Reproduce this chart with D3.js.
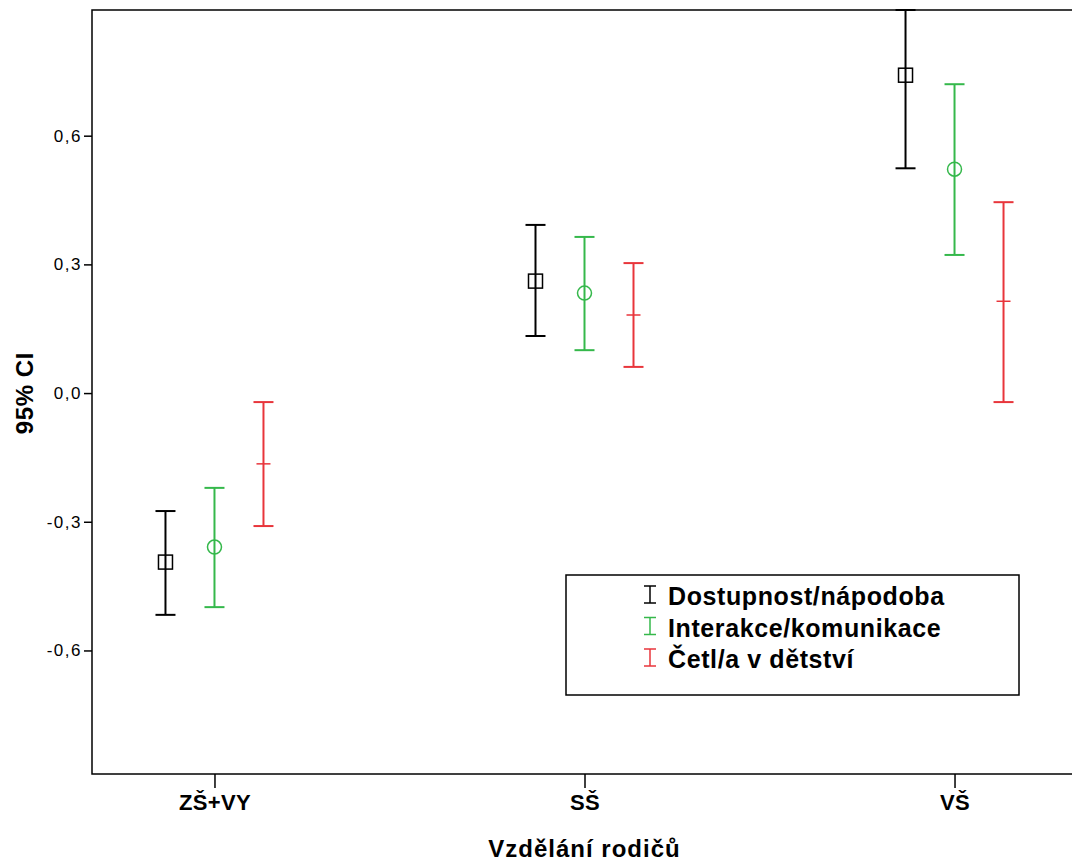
<!DOCTYPE html>
<html>
<head>
<meta charset="utf-8">
<script src="https://cdn.jsdelivr.net/npm/d3@7"></script>
<style>
  body { margin: 0; background: #fff; }
  svg { display: block; }
</style>
</head>
<body>
<svg id="chart" width="1072" height="867"></svg>
<script>
// categories and series
var categories = ["ZŠ+VY", "SŠ", "VŠ"];
var seriesNames = ["Dostupnost/nápodoba", "Interakce/komunikace", "Četl/a v dětství"];
var seriesColors = ["#000000", "#35b84b", "#e8353b"];
var seriesMarkers = ["square", "circle", "dash"];

// values (per category, in series order)
var dostupnostMean = [-0.394, 0.261, 0.741];
var dostupnostLow = [-0.517, 0.133, 0.524];
var dostupnostHigh = [-0.275, 0.392, 0.893];

var interakceMean = [-0.359, 0.233, 0.522];
var interakceLow = [-0.499, 0.100, 0.322];
var interakceHigh = [-0.221, 0.364, 0.720];

var cetlMean = [-0.165, 0.182, 0.214];
var cetlLow = [-0.310, 0.061, -0.021];
var cetlHigh = [-0.021, 0.303, 0.445];

var yTicks = [-0.6, -0.3, 0.0, 0.3, 0.6];

var means = [dostupnostMean, interakceMean, cetlMean];
var lows = [dostupnostLow, interakceLow, cetlLow];
var highs = [dostupnostHigh, interakceHigh, cetlHigh];

// plot area
var plotLeft = 92, plotTop = 10, plotRight = 1077, plotBottom = 774;
var fontFamily = "Liberation Sans, Arial, sans-serif";
var svg = d3.select("#chart");

var x = d3.scalePoint()
  .domain(categories)
  .range([plotLeft, plotRight])
  .padding(0.331);

var seriesOffset = d3.scalePoint()
  .domain(seriesNames)
  .range([-49, 49]);

var y = d3.scaleLinear()
  .domain([-0.888, 0.893])
  .range([plotBottom, plotTop]);

// frame
svg.append("rect")
  .attr("x", plotLeft)
  .attr("y", plotTop)
  .attr("width", plotRight - plotLeft)
  .attr("height", plotBottom - plotTop)
  .attr("fill", "none")
  .attr("stroke", "#000")
  .attr("stroke-width", 1.5);

// y axis
var fmt = function (d) { return d3.format(".1f")(d).replace(".", ",").replace("−", "-"); };
var yAxis = d3.axisLeft(y)
  .tickValues(yTicks)
  .tickSize(8)
  .tickPadding(2)
  .tickFormat(fmt);

var gy = svg.append("g")
  .attr("transform", "translate(" + plotLeft + ",0)")
  .call(yAxis);
gy.select(".domain").remove();
gy.selectAll("line").attr("stroke", "#000").attr("stroke-width", 1.5);
gy.selectAll("text")
  .attr("font-family", fontFamily)
  .attr("font-size", 17)
  .attr("letter-spacing", 1.5)
  .attr("fill", "#000");

// x axis
var xAxis = d3.axisBottom(x)
  .tickSize(14)
  .tickPadding(6);

var gx = svg.append("g")
  .attr("transform", "translate(0," + plotBottom + ")")
  .call(xAxis);
gx.select(".domain").remove();
gx.selectAll("line").attr("stroke", "#000").attr("stroke-width", 1.5);
gx.selectAll("text")
  .attr("font-family", fontFamily)
  .attr("font-weight", "bold")
  .attr("font-size", 22)
  .attr("letter-spacing", 0.3)
  .attr("fill", "#000");

// axis titles
svg.append("text")
  .attr("transform", "translate(33," + y(0) + ") rotate(-90)")
  .attr("text-anchor", "middle")
  .attr("font-family", fontFamily)
  .attr("font-weight", "bold")
  .attr("font-size", 24)
  .attr("letter-spacing", 0.6)
  .text("95% CI");

svg.append("text")
  .attr("x", x("SŠ"))
  .attr("y", 857)
  .attr("text-anchor", "middle")
  .attr("font-family", fontFamily)
  .attr("font-weight", "bold")
  .attr("font-size", 24)
  .attr("letter-spacing", 1)
  .text("Vzdělání rodičů");

// error bars
var capHalf = 10;
seriesNames.forEach(function (name, s) {
  var color = seriesColors[s];
  var rows = categories.map(function (c, i) {
    return { cat: c, mean: means[s][i], low: lows[s][i], high: highs[s][i] };
  });
  var g = svg.append("g").attr("class", "series");
  var cx = function (d) { return x(d.cat) + seriesOffset(name); };

  g.selectAll(".stem").data(rows).enter().append("line")
    .attr("x1", cx).attr("x2", cx)
    .attr("y1", function (d) { return y(d.high); })
    .attr("y2", function (d) { return y(d.low); })
    .attr("stroke", color).attr("stroke-width", 2);

  g.selectAll(".capTop").data(rows).enter().append("line")
    .attr("x1", function (d) { return cx(d) - capHalf; })
    .attr("x2", function (d) { return cx(d) + capHalf; })
    .attr("y1", function (d) { return y(d.high); })
    .attr("y2", function (d) { return y(d.high); })
    .attr("stroke", color).attr("stroke-width", 2);

  g.selectAll(".capBottom").data(rows).enter().append("line")
    .attr("x1", function (d) { return cx(d) - capHalf; })
    .attr("x2", function (d) { return cx(d) + capHalf; })
    .attr("y1", function (d) { return y(d.low); })
    .attr("y2", function (d) { return y(d.low); })
    .attr("stroke", color).attr("stroke-width", 2);

  // mean markers
  if (seriesMarkers[s] == "square") {
    g.selectAll(".mark").data(rows).enter().append("rect")
      .attr("x", function (d) { return cx(d) - 7; })
      .attr("y", function (d) { return y(d.mean) - 7; })
      .attr("width", 14).attr("height", 14)
      .attr("fill", "none").attr("stroke", color).attr("stroke-width", 1.5);
  } else if (seriesMarkers[s] == "circle") {
    g.selectAll(".mark").data(rows).enter().append("circle")
      .attr("cx", cx)
      .attr("cy", function (d) { return y(d.mean); })
      .attr("r", 7)
      .attr("fill", "none").attr("stroke", color).attr("stroke-width", 1.5);
  } else {
    g.selectAll(".mark").data(rows).enter().append("line")
      .attr("x1", function (d) { return cx(d) - 7; })
      .attr("x2", function (d) { return cx(d) + 7; })
      .attr("y1", function (d) { return y(d.mean); })
      .attr("y2", function (d) { return y(d.mean); })
      .attr("stroke", color).attr("stroke-width", 1.5);
  }
});

// legend
var legend = svg.append("g").attr("transform", "translate(566,575)");
legend.append("rect")
  .attr("width", 453).attr("height", 120)
  .attr("fill", "#fff").attr("stroke", "#000").attr("stroke-width", 1.5);

var item = legend.selectAll(".item").data(seriesNames).enter().append("g")
  .attr("transform", function (d, i) { return "translate(0," + (30 + i * 31.5) + ")"; });

item.append("line")
  .attr("x1", 84).attr("x2", 84).attr("y1", -19).attr("y2", -2)
  .attr("stroke", function (d, i) { return seriesColors[i]; }).attr("stroke-width", 1.5);
item.append("line")
  .attr("x1", 78).attr("x2", 90).attr("y1", -19).attr("y2", -19)
  .attr("stroke", function (d, i) { return seriesColors[i]; }).attr("stroke-width", 1.5);
item.append("line")
  .attr("x1", 78).attr("x2", 90).attr("y1", -2).attr("y2", -2)
  .attr("stroke", function (d, i) { return seriesColors[i]; }).attr("stroke-width", 1.5);

item.append("text")
  .attr("x", 102).attr("y", 0)
  .attr("font-family", fontFamily)
  .attr("font-weight", "bold")
  .attr("font-size", 25)
  .attr("letter-spacing", 0.6)
  .text(function (d) { return d; });
</script>
</body>
</html>
